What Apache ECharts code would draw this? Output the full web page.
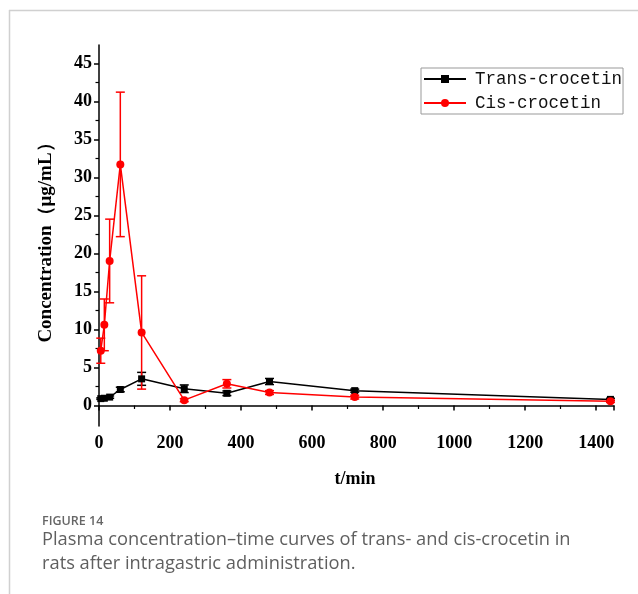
<!DOCTYPE html>
<html>
<head>
<meta charset="utf-8">
<script src="https://cdn.jsdelivr.net/npm/echarts@6/dist/echarts.min.js"></script>
<style>
html,body{margin:0;padding:0;background:#fff;}
#c{width:638px;height:594px;}
</style>
</head>
<body>
<div id="c"></div>
<script>
// ---- data ----
var times = [5, 15, 30, 60, 120, 240, 360, 480, 720, 1440];
var transMean = [0.9, 0.95, 1.1, 2.1, 3.5, 2.2, 1.6, 3.15, 1.95, 0.8];
var transSD   = [0.1, 0.1, 0.15, 0.3, 0.85, 0.5, 0.3, 0.4, 0.2, 0.15];
var cisMean   = [7.2, 10.6, 19.0, 31.7, 9.6, 0.7, 2.85, 1.7, 1.1, 0.55];
var cisSD     = [1.65, 3.4, 5.5, 9.5, 7.45, 0.2, 0.55, 0.25, 0.25, 0.15];
var yMajor = [0, 5, 10, 15, 20, 25, 30, 35, 40, 45];
var yMinor = [2.5, 7.5, 12.5, 17.5, 22.5, 27.5, 32.5, 37.5, 42.5];
var seriesNames = ['Trans-crocetin', 'Cis-crocetin'];

function pairs(xs, ys) { return xs.map(function (x, i) { return [x, ys[i]]; }); }
function errs(xs, m, s) { return xs.map(function (x, i) { return [x, m[i] - s[i], m[i] + s[i]]; }); }

function errRender(color) {
  return function (params, api) {
    var x = api.value(0);
    var lo = api.coord([x, api.value(1)]);
    var hi = api.coord([x, api.value(2)]);
    var w = 4.5;
    var st = { stroke: color, lineWidth: 1.5 };
    return {
      type: 'group',
      children: [
        { type: 'line', shape: { x1: lo[0], y1: lo[1], x2: hi[0], y2: hi[1] }, style: st },
        { type: 'line', shape: { x1: lo[0] - w, y1: lo[1], x2: lo[0] + w, y2: lo[1] }, style: st },
        { type: 'line', shape: { x1: hi[0] - w, y1: hi[1], x2: hi[0] + w, y2: hi[1] }, style: st }
      ]
    };
  };
}

var chart = echarts.init(document.getElementById('c'), null, { renderer: 'canvas' });
var serif = 'Liberation Serif';
var axisStyle = { color: '#000', width: 1.5 };

chart.setOption({
  animation: false,
  backgroundColor: '#fff',
  grid: { left: 99, top: 45, width: 515, height: 381, containLabel: false },
  legend: {
    data: seriesNames,
    orient: 'vertical',
    left: 421,
    top: 68,
    padding: [1, 1, 1, 2],
    itemGap: 4,
    itemWidth: 42,
    itemHeight: 10,
    borderColor: '#999',
    borderWidth: 1,
    textStyle: { fontFamily: 'Liberation Mono', fontSize: 17.5, lineHeight: 20, color: '#111', padding: [0, 0, 0, 4] }
  },
  xAxis: {
    type: 'value', min: 0, max: 1450, interval: 200,
    axisLine: { lineStyle: axisStyle },
    axisTick: { length: 5, inside: false, lineStyle: axisStyle },
    minorTick: { show: true, splitNumber: 2, length: 3.5, lineStyle: { color: '#000', width: 1.2 } },
    splitLine: { show: false },
    axisLabel: { fontFamily: serif, fontWeight: 'bold', fontSize: 18, color: '#000', margin: 8,
      formatter: function (v) { return v <= 1400 ? String(v) : ''; } }
  },
  yAxis: [{
    type: 'value', min: -2.7, max: 47.4,
    axisLine: { show: true, lineStyle: axisStyle },
    axisTick: { show: true, length: 5, customValues: yMajor, lineStyle: axisStyle },
    splitLine: { show: false },
    axisLabel: { customValues: yMajor, fontFamily: serif, fontWeight: 'bold', fontSize: 18, color: '#000', margin: 7 }
  }, {
    type: 'value', min: -2.7, max: 47.4, position: 'left',
    axisLine: { show: false },
    axisTick: { show: true, length: 3.5, customValues: yMinor, lineStyle: { color: '#000', width: 1.2 } },
    splitLine: { show: false },
    axisLabel: { show: false }
  }],
  series: [
    {
      name: seriesNames[0], type: 'line', data: pairs(times, transMean),
      symbol: 'rect', symbolSize: 7, color: '#000',
      lineStyle: { color: '#000', width: 1.5 }, itemStyle: { color: '#000' }, z: 3
    },
    {
      name: seriesNames[1], type: 'line', data: pairs(times, cisMean),
      symbol: 'circle', symbolSize: 8, color: '#ff0000',
      lineStyle: { color: '#ff0000', width: 1.5 }, itemStyle: { color: '#ff0000' }, z: 4
    },
    {
      type: 'custom', renderItem: errRender('#000'), data: errs(times, transMean, transSD),
      encode: { x: 0, y: [1, 2] }, z: 2, silent: true
    },
    {
      type: 'custom', renderItem: errRender('#ff0000'), data: errs(times, cisMean, cisSD),
      encode: { x: 0, y: [1, 2] }, z: 2, silent: true
    }
  ],
  graphic: [
    { type: 'line', shape: { x1: 9, y1: 10.5, x2: 638, y2: 10.5 }, style: { stroke: '#d0d0d0', lineWidth: 1.5 } },
    { type: 'line', shape: { x1: 9.5, y1: 10, x2: 9.5, y2: 594 }, style: { stroke: '#d0d0d0', lineWidth: 1.5 } },
    { type: 'text', x: 46, y: 238, rotation: Math.PI / 2,
      style: { text: 'Concentration（μg/mL）', fontFamily: serif, fontWeight: 'bold', fontSize: 19, fill: '#000', align: 'center', verticalAlign: 'middle' } },
    { type: 'text', x: 355, y: 479,
      style: { text: 't/min', fontFamily: serif, fontWeight: 'bold', fontSize: 18, fill: '#000', align: 'center', verticalAlign: 'middle' } },
    { type: 'text', x: 42, y: 521,
      style: { text: 'FIGURE 14', fontFamily: 'Open Sans', fontWeight: 600, fontSize: 12.5, fill: '#666', verticalAlign: 'middle' } },
    { type: 'text', x: 42, y: 540,
      style: { text: 'Plasma concentration\u2013time curves of trans- and cis-crocetin in', fontFamily: 'Open Sans', fontSize: 18.3, fill: '#5f5f5f', verticalAlign: 'middle' } },
    { type: 'text', x: 42, y: 564,
      style: { text: 'rats after intragastric administration.', fontFamily: 'Open Sans', fontSize: 18.3, fill: '#5f5f5f', verticalAlign: 'middle' } }
  ]
});
</script>
</body>
</html>
